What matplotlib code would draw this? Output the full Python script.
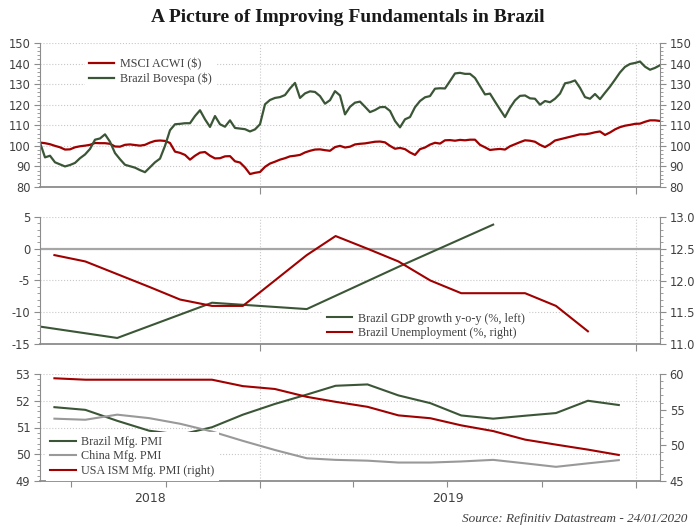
import pandas as pd
import matplotlib.pyplot as plt
import matplotlib.dates as mdates
from matplotlib.ticker import MultipleLocator, AutoMinorLocator, FormatStrFormatter
from matplotlib.transforms import blended_transform_factory

plt.rcParams['axes.unicode_minus'] = False

# ---- data ----
# top panel: indices rebased to 100, sampled every ~5 days from 2018-06-01 to 2020-01-24
idx_start, idx_end = '2018-06-01', '2020-01-24'
msci_acwi = [
    101.6, 101.3, 100.8, 100.0, 99.3, 98.2, 98.3, 99.3, 99.8, 100.1,
    100.5, 101.4, 101.3, 101.3, 101.0, 99.7, 99.6, 100.5, 100.7, 100.4,
    100.1, 100.5, 101.6, 102.4, 102.6, 102.4, 101.4, 97.2, 96.6, 95.6,
    93.3, 95.2, 96.7, 97.0, 95.2, 93.9, 94.0, 94.9, 95.0, 92.5,
    91.9, 89.5, 86.3, 86.9, 87.3, 89.8, 91.4, 92.3, 93.3, 94.0,
    94.9, 95.2, 95.6, 96.8, 97.6, 98.2, 98.3, 97.9, 97.6, 99.4,
    100.0, 99.2, 99.6, 100.7, 101.0, 101.2, 101.6, 102.0, 102.1, 101.7,
    100.0, 98.6, 99.0, 98.4, 96.8, 95.6, 98.4, 99.2, 100.6, 101.5,
    101.1, 102.7, 102.8, 102.5, 102.9, 102.7, 103.0, 103.0, 100.5, 99.3,
    98.0, 98.3, 98.5, 98.2, 99.8, 100.8, 101.8, 102.7, 102.5, 102.0,
    100.5, 99.4, 100.8, 102.6, 103.2, 103.8, 104.4, 105.0, 105.6, 105.6,
    106.0, 106.6, 107.0, 105.3, 106.5, 108.0, 109.1, 109.8, 110.2, 110.7,
    110.8, 111.7, 112.4, 112.4, 112.1,
]
bovespa = [
    101.6, 94.4, 95.2, 92.0, 91.0, 90.0, 90.7, 91.7, 94.0, 95.8,
    98.5, 103.0, 103.6, 105.6, 102.0, 96.5, 93.5, 90.8, 90.1, 89.4,
    88.2, 87.2, 89.6, 92.0, 93.8, 100.0, 107.6, 110.5, 110.7, 111.0,
    111.0, 114.5, 117.3, 112.9, 109.2, 114.5, 110.5, 109.3, 112.4, 108.7,
    108.4, 108.1, 107.0, 108.0, 110.5, 120.2, 122.3, 123.3, 123.7, 124.7,
    127.9, 130.6, 123.3, 125.5, 126.5, 126.2, 124.2, 120.5, 122.2, 126.6,
    124.5, 115.3, 119.0, 121.0, 121.5, 119.0, 116.4, 117.4, 118.8, 118.9,
    117.0, 112.1, 109.0, 112.9, 114.0, 118.8, 121.8, 123.6, 124.2, 127.8,
    128.0, 127.9, 131.5, 135.2, 135.5, 135.0, 135.0, 133.0, 129.0, 125.0,
    125.4, 121.5, 117.7, 114.0, 118.5, 122.1, 124.3, 124.5, 123.1, 122.9,
    120.0, 121.8, 121.2, 122.9, 125.4, 130.4, 130.9, 131.8, 128.2, 123.7,
    122.9, 125.2, 122.7, 125.8, 128.8, 132.2, 135.7, 138.4, 139.8, 140.3,
    141.0, 138.5, 137.0, 137.9, 139.2,
]

# middle panel
gdp_dates = ['2018-05-15', '2018-08-15', '2018-11-15', '2019-02-15', '2019-05-15', '2019-08-15']
gdp_growth = [-11.85, -14.05, -8.5, -9.5, -2.85, 3.8]
unemp_dates = pd.date_range('2018-06-01', '2019-11-01', freq='MS') + pd.Timedelta(days=14)
unemployment = [12.4, 12.3, 12.1, 11.9, 11.7, 11.6, 11.6, 12.0, 12.4, 12.7,
                12.5, 12.3, 12.0, 11.8, 11.8, 11.8, 11.6, 11.2]

# bottom panel
pmi_dates = pd.date_range('2018-06-01', '2019-12-01', freq='MS') + pd.Timedelta(days=14)
brazil_pmi = [51.76, 51.66, 51.25, 50.88, 50.73, 51.01, 51.48, 51.88, 52.23, 52.56,
              52.61, 52.2, 51.91, 51.45, 51.33, 51.44, 51.54, 52.0, 51.84]
china_pmi = [51.33, 51.29, 51.48, 51.35, 51.14, 50.85, 50.5, 50.16, 49.85, 49.79,
             49.76, 49.69, 49.69, 49.73, 49.79, 49.66, 49.53, 49.66, 49.78]
usa_ism = [59.4, 59.2, 59.2, 59.2, 59.2, 59.2, 58.3, 57.9, 56.8, 56.1,
           55.4, 54.2, 53.8, 52.8, 52.0, 50.8, 50.1, 49.4, 48.65]

year_labels = ['2018', '2019']
year_mids = ['2018-09-16', '2019-07-02']

RED = '#a00000'
GREEN = '#3b5636'
GREY = '#999999'
TXT = '#404040'
AXC = '#8c8c8c'
GRID = '#c8c8c8'
SERIF = 'Liberation Serif'

xmin, xmax = pd.Timestamp(idx_start), pd.Timestamp(idx_end)


def setup(ax, ax2, left_lim, left_step, right_lim, right_step, right_fmt=None):
    for a in (ax, ax2):
        a.set_xlim(xmin, xmax)
        a.spines['top'].set_visible(False)
    ax.spines['right'].set_visible(False)
    ax2.spines['left'].set_visible(False)
    ax2.spines['bottom'].set_visible(False)
    ax.spines['left'].set_color(AXC)
    ax2.spines['right'].set_color(AXC)
    ax.spines['bottom'].set_color(AXC)
    ax.spines['bottom'].set_linewidth(1.3)

    ax.set_ylim(*left_lim)
    ax.yaxis.set_major_locator(MultipleLocator(left_step))
    ax.yaxis.set_minor_locator(AutoMinorLocator(5))
    ax2.set_ylim(*right_lim)
    ax2.yaxis.set_major_locator(MultipleLocator(right_step))
    ax2.yaxis.set_minor_locator(AutoMinorLocator(5))
    if right_fmt:
        ax2.yaxis.set_major_formatter(FormatStrFormatter(right_fmt))

    for a in (ax, ax2):
        a.tick_params(axis='y', which='major', direction='out', length=4, width=0.8,
                      color=AXC, labelcolor=TXT, labelsize=8.3, pad=3)
        a.tick_params(axis='y', which='minor', direction='out', length=2, width=0.6, color=AXC)

    ax.xaxis.set_major_locator(mdates.YearLocator())
    ax.tick_params(axis='x', which='major', direction='out', length=5, width=0.8,
                   color=AXC, labelbottom=False)
    ax.set_axisbelow(True)
    ax.grid(axis='y', which='major', linestyle=':', color=GRID, linewidth=0.8)
    ax.grid(axis='x', which='major', linestyle=':', color=GRID, linewidth=0.8)


def add_legend(ax, handles, labels, **kw):
    leg = ax.legend(handles, labels, frameon=True, facecolor='white', edgecolor='none',
                    framealpha=1, fancybox=False, prop={'family': SERIF, 'size': 8.7},
                    labelcolor=TXT, handlelength=2.1, handletextpad=0.45,
                    labelspacing=0.2, borderpad=0.35, borderaxespad=0, **kw)
    leg.set_zorder(10)
    return leg


fig = plt.figure(figsize=(6.96, 5.28), dpi=100)

fig.text(0.5, 0.967, 'A Picture of Improving Fundamentals in Brazil', ha='center', va='center',
         fontsize=14, fontweight='bold', family=SERIF, color='#1a1a1a')

# ---- top panel ----
ax1 = fig.add_axes([40 / 696, 1 - 187 / 528, 620 / 696, 144 / 528])
ax1b = ax1.twinx()
setup(ax1, ax1b, (80, 150), 10, (80, 150), 10)
idx_dates = pd.date_range(idx_start, idx_end, periods=len(msci_acwi))
l_msci, = ax1.plot(idx_dates, msci_acwi, color=RED, lw=1.6)
l_bov, = ax1.plot(idx_dates, bovespa, color=GREEN, lw=1.6)
add_legend(ax1b, [l_msci, l_bov], ['MSCI ACWI ($)', 'Brazil Bovespa ($)'],
           loc='upper left', bbox_to_anchor=(0.072, 0.925))

# ---- middle panel ----
ax2 = fig.add_axes([40 / 696, 1 - 344 / 528, 620 / 696, 127 / 528])
ax2b = ax2.twinx()
setup(ax2, ax2b, (-15, 5), 5, (11.0, 13.0), 0.5, '%.1f')
ax2.axhline(0, color='#a6a6a6', lw=1.6, zorder=1.5)
l_gdp, = ax2.plot(pd.to_datetime(gdp_dates), gdp_growth, color=GREEN, lw=1.5)
l_un, = ax2b.plot(unemp_dates, unemployment, color=RED, lw=1.5)
add_legend(ax2b, [l_gdp, l_un], ['Brazil GDP growth y-o-y (%, left)', 'Brazil Unemployment (%, right)'],
           loc='upper left', bbox_to_anchor=(0.456, 0.28))

# ---- bottom panel ----
ax3 = fig.add_axes([40 / 696, 1 - 481 / 528, 620 / 696, 107 / 528])
ax3b = ax3.twinx()
setup(ax3, ax3b, (49, 53), 1, (45, 60), 5)
ax3.xaxis.set_minor_locator(mdates.MonthLocator(bymonth=[1, 4, 7, 10]))
ax3.tick_params(axis='x', which='minor', direction='out', length=4, width=0.8, color=AXC)
l_bra, = ax3.plot(pmi_dates, brazil_pmi, color=GREEN, lw=1.5)
l_chn, = ax3.plot(pmi_dates, china_pmi, color=GREY, lw=1.5)
l_usa, = ax3b.plot(pmi_dates, usa_ism, color=RED, lw=1.5)
add_legend(ax3b, [l_bra, l_chn, l_usa], ['Brazil Mfg. PMI', 'China Mfg. PMI', 'USA ISM Mfg. PMI (right)'],
           loc='lower left', bbox_to_anchor=(0.01, 0.0))

trans = blended_transform_factory(ax3.transData, ax3.transAxes)
for lab, mid in zip(year_labels, year_mids):
    ax3.text(pd.Timestamp(mid), -0.165, lab, transform=trans, ha='center', va='center',
             fontsize=9, color=TXT)

fig.text(687 / 696, 1 - 519 / 528, 'Source: Refinitiv Datastream - 24/01/2020', ha='right', va='center',
         fontsize=9.5, style='italic', family=SERIF, color=TXT)

fig.savefig('out.png', dpi=100)
